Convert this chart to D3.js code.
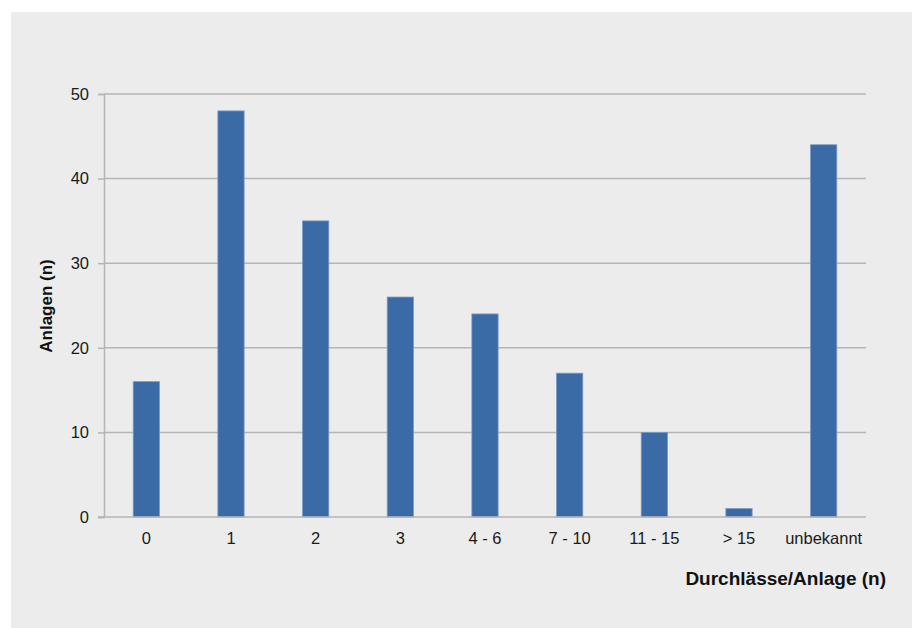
<!DOCTYPE html>
<html>
<head>
<meta charset="utf-8">
<script src="https://cdn.jsdelivr.net/npm/d3@7"></script>
<style>
  html, body { margin: 0; padding: 0; background: #ffffff; }
  svg { display: block; font-family: "Liberation Sans", Arial, sans-serif; }
</style>
</head>
<body>
<svg id="chart" width="912" height="628"></svg>
<script>
// Number of culverts per facility and how many facilities fall into each class
const categories = ["0", "1", "2", "3", "4 - 6", "7 - 10", "11 - 15", "> 15", "unbekannt"];
const counts = [16, 48, 35, 26, 24, 17, 10, 1, 44];
const yTicks = [0, 10, 20, 30, 40, 50];
const xTitle = "Durchlässe/Anlage (n)";
const yTitle = "Anlagen (n)";

const svg = d3.select("#chart");
const W = 912, H = 628;
const FONT = "Liberation Sans, Arial, sans-serif";

// Panel background
svg.append("rect")
  .attr("x", 11).attr("y", 12)
  .attr("width", W - 11).attr("height", H - 12)
  .attr("fill", "#ebeceb");

const plot = { left: 104, right: 866, top: 94, bottom: 517 };

const x = d3.scaleBand()
  .domain(categories)
  .range([plot.left, plot.right])
  .paddingInner(0.69)
  .paddingOuter(0.345);

const y = d3.scaleLinear()
  .domain([0, 50])
  .range([plot.bottom, plot.top]);

// Horizontal gridlines
svg.append("g")
  .selectAll("line")
  .data(yTicks.filter(t => t > 0))
  .join("line")
  .attr("x1", plot.left).attr("x2", plot.right)
  .attr("y1", d => y(d)).attr("y2", d => y(d))
  .attr("stroke", "#b4b5b5")
  .attr("stroke-width", 1.5);

// Y axis
const yAxis = svg.append("g")
  .attr("transform", `translate(${plot.left},0)`)
  .call(d3.axisLeft(y).tickValues(yTicks).tickSize(6).tickPadding(9).tickFormat(d3.format("d")));
yAxis.attr("font-size", null).attr("font-family", null);
yAxis.select(".domain").attr("stroke", "#b4b5b5").attr("stroke-width", 1.5);
yAxis.selectAll(".tick line").attr("stroke", "#b4b5b5").attr("stroke-width", 1.5);
yAxis.selectAll(".tick text")
  .style("font-size", "16.5px")
  .style("font-family", FONT)
  .attr("fill", "#1a1a1a");

// Bars
svg.append("g")
  .selectAll("rect")
  .data(categories.map((c, i) => ({ c, v: counts[i] })))
  .join("rect")
  .attr("x", d => x(d.c))
  .attr("width", x.bandwidth())
  .attr("y", d => y(d.v))
  .attr("height", d => y(0) - y(d.v))
  .attr("fill", "#3a6ba6")
  .attr("stroke", "#7a9ac4")
  .attr("stroke-width", 0.8);

// X axis baseline and labels
const xAxis = svg.append("g")
  .attr("transform", `translate(0,${plot.bottom})`)
  .call(d3.axisBottom(x).tickSize(0).tickPadding(15));
xAxis.attr("font-size", null).attr("font-family", null);
xAxis.select(".domain")
  .attr("d", `M${plot.left - 6},0H${plot.right}`)
  .attr("stroke", "#b4b5b5").attr("stroke-width", 1.5);
xAxis.selectAll(".tick text")
  .style("font-size", "16.5px")
  .style("font-family", FONT)
  .attr("fill", "#1a1a1a");

// Axis titles
svg.append("text")
  .attr("x", 886).attr("y", 585)
  .attr("text-anchor", "end")
  .style("font-size", "19px")
  .style("font-family", FONT)
  .attr("font-weight", "bold")
  .attr("fill", "#111")
  .text(xTitle);

svg.append("text")
  .attr("transform", "translate(52,306) rotate(-90)")
  .attr("text-anchor", "middle")
  .style("font-size", "17px")
  .style("font-family", FONT)
  .attr("font-weight", "bold")
  .attr("fill", "#111")
  .text(yTitle);
</script>
</body>
</html>
